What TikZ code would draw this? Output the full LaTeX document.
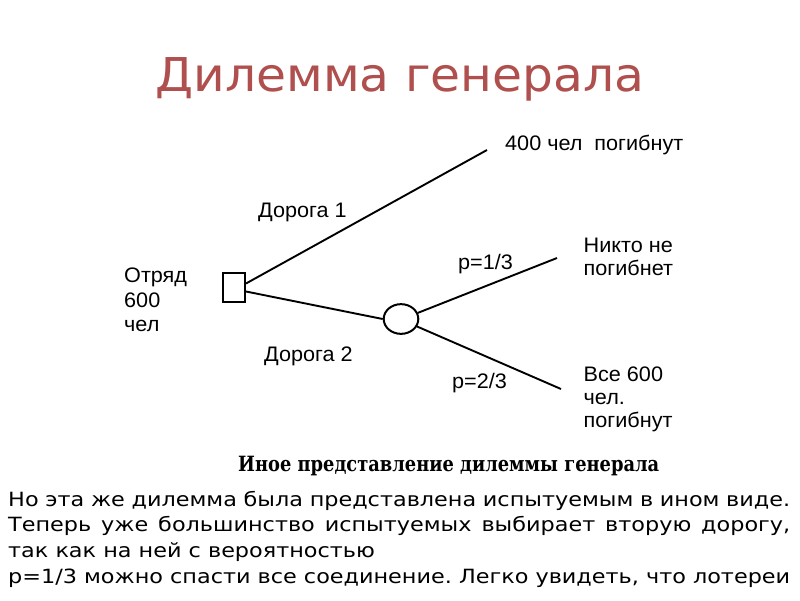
\documentclass[tikz,border=0pt]{standalone}
\usepackage{fontspec}
\setmainfont{DejaVu Sans}
\newfontfamily\titlefont[FakeStretch=1.045]{DejaVu Sans}
\newfontfamily\bodyfont[FakeStretch=1.14]{DejaVu Sans}
\newfontfamily\lblfont[FakeStretch=1.03]{Liberation Sans}
\newfontfamily\capfont[FakeStretch=0.85]{DejaVu Serif}
\usetikzlibrary{shapes.geometric}
\definecolor{titlered}{RGB}{176,80,78}
\tikzset{
  branch/.style={line width=1.9pt},
  lbl/.style={font=\lblfont\fontsize{21}{22.5}\selectfont, inner sep=0pt, align=left},
  bodyline/.style={font=\bodyfont\frenchspacing\fontsize{19.6}{25.7}\selectfont, inner sep=0pt, anchor=base west},
}
\begin{document}
\begin{tikzpicture}[x=1pt,y=-1pt]
\useasboundingbox[fill=white] (0,0) rectangle (800,600);
\node[font=\titlefont\fontsize{46.6}{50}\selectfont, text=titlered, anchor=base, inner sep=0pt] (title) at (400,91.7) {Дилемма генерала};

\node[draw, line width=2pt, minimum width=22pt, minimum height=29.5pt, inner sep=0pt] (sq) at (234,287.5) {};
\node[draw, ellipse, line width=2pt, minimum width=34.6pt, minimum height=29.7pt, inner sep=0pt] (ch) at (401,319) {};
\coordinate (e1) at (487,150);
\coordinate (e2) at (557,258);
\coordinate (e3) at (561,389);

\draw[branch] ([yshift=4pt]sq.east) -- (e1);
\draw[branch] ([yshift=-4pt]sq.east) -- (ch.west);
\draw[branch] (ch.20) -- (e2);
\draw[branch] (ch.-25) -- (e3);

\node[lbl, anchor=base west] (out1) at (505,150) {400 чел\ \ погибнут};
\node[lbl, anchor=base west] (road1) at (258,217) {Дорога 1};
\node[lbl, anchor=north west, font=\lblfont\fontsize{21}{24.3}\selectfont] (start) at (124,268) {Отряд\\600\\чел};
\node[lbl, anchor=base west] (p1) at (458,269.5) {p=1/3};
\node[lbl, anchor=north west] (out2) at (583.5,238.3) {Никто не\\погибнет};
\node[lbl, anchor=base west] (road2) at (264,361) {Дорога 2};
\node[lbl, anchor=base west] (p2) at (452,388) {p=2/3};
\node[lbl, anchor=north west] (out3) at (583.5,366.7) {Все 600\\[0.5pt]чел.\\погибнут};

\node[font=\capfont\bfseries\fontsize{21}{24}\selectfont, inner sep=0pt, anchor=base west] (cap) at (238,471) {Иное представление дилеммы генерала};

\node[bodyline] (t1) at (8,506) {\makebox[782pt][s]{Но эта же дилемма была представлена испытуемым в ином виде.}};
\node[bodyline] (t2) at (8,531.7) {\makebox[782pt][s]{Теперь уже большинство испытуемых выбирает вторую дорогу,}};
\node[bodyline] (t3) at (8,557.4) {так как на ней с вероятностью};
\node[bodyline] (t4) at (8,583) {\makebox[782pt][s]{p=1/3 можно спасти все соединение. Легко увидеть, что лотереи}};
\end{tikzpicture}
\end{document}
